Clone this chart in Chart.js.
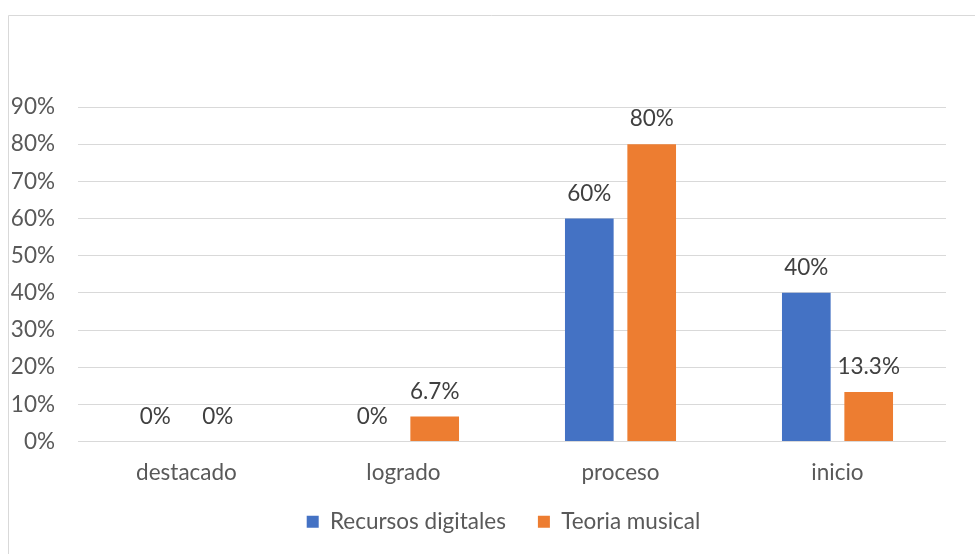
<!DOCTYPE html>
<html>
<head>
<meta charset="utf-8">
<script src="https://cdn.jsdelivr.net/npm/chart.js@4.4.1/dist/chart.umd.min.js"></script>
<style>
  html, body { margin: 0; padding: 0; background: #ffffff; }
  #wrap { position: relative; width: 975px; height: 554px; }
</style>
</head>
<body>
<div id="wrap"><canvas id="c"></canvas></div>
<script>
const categories = ["destacado", "logrado", "proceso", "inicio"];
const seriesNames = ["Recursos digitales", "Teoria musical"];
const recursosDigitales = [0, 0, 60, 40];
const teoriaMusical = [0, 6.7, 80, 13.3];
const yTicks = [0, 10, 20, 30, 40, 50, 60, 70, 80, 90];

const FONT = "Lato";
const TEXT = "#595959";

const framePlugin = {
  id: "frame",
  beforeDraw(chart) {
    const ctx = chart.ctx;
    ctx.save();
    ctx.fillStyle = "#ffffff";
    ctx.fillRect(0, 0, chart.width, chart.height);
    ctx.strokeStyle = "#d9d9d9";
    ctx.lineWidth = 1;
    ctx.beginPath();
    ctx.moveTo(8.5, chart.height);
    ctx.lineTo(8.5, 15.5);
    ctx.lineTo(chart.width, 15.5);
    ctx.stroke();
    ctx.restore();
  }
};

const labelPlugin = {
  id: "valueLabels",
  afterDatasetsDraw(chart) {
    const ctx = chart.ctx;
    ctx.save();
    ctx.font = "22.5px " + FONT;
    ctx.fillStyle = "#404040";
    ctx.textAlign = "center";
    ctx.textBaseline = "middle";
    chart.data.datasets.forEach((ds, i) => {
      const meta = chart.getDatasetMeta(i);
      meta.data.forEach((el, j) => {
        const v = ds.data[j];
        ctx.fillText(v + "%", el.x, el.y - 25);
      });
    });
    ctx.restore();
  }
};

new Chart(document.getElementById("c"), {
  type: "bar",
  data: {
    labels: categories,
    datasets: [
      { label: seriesNames[0], data: recursosDigitales, backgroundColor: "#4472C4", categoryPercentage: 0.575, barPercentage: 0.78 },
      { label: seriesNames[1], data: teoriaMusical, backgroundColor: "#ED7D31", categoryPercentage: 0.575, barPercentage: 0.78 }
    ]
  },
  options: {
    responsive: true,
    maintainAspectRatio: false,
    devicePixelRatio: 1,
    animation: false,
    layout: { padding: { left: 61, right: 29, top: 107, bottom: 11 } },
    scales: {
      x: {
        grid: { display: false, drawTicks: false },
        border: { display: false },
        afterFit(scale) {
          scale._computeLabelArea = () => undefined;
          scale.height = scale.height - 26;
        },
        ticks: { color: TEXT, font: { family: FONT, size: 22.5 }, padding: 18 }
      },
      y: {
        min: 0,
        max: 90,
        afterBuildTicks(scale) { scale.ticks = yTicks.map(v => ({ value: v })); },
        afterFit(scale) {
          scale._computeLabelArea = () => undefined;
          scale.width = 17;
        },
        grid: { color: "#d9d9d9", lineWidth: 1, drawTicks: false },
        border: { display: false },
        ticks: { color: TEXT, font: { family: FONT, size: 22.5 }, padding: 23, callback: v => v + "%" }
      }
    },
    plugins: {
      legend: {
        position: "bottom",
        labels: { color: TEXT, font: { family: FONT, size: 22.5 }, boxWidth: 12, boxHeight: 12, padding: 32 }
      },
      tooltip: { enabled: false }
    }
  },
  plugins: [framePlugin, labelPlugin]
});
</script>
</body>
</html>
